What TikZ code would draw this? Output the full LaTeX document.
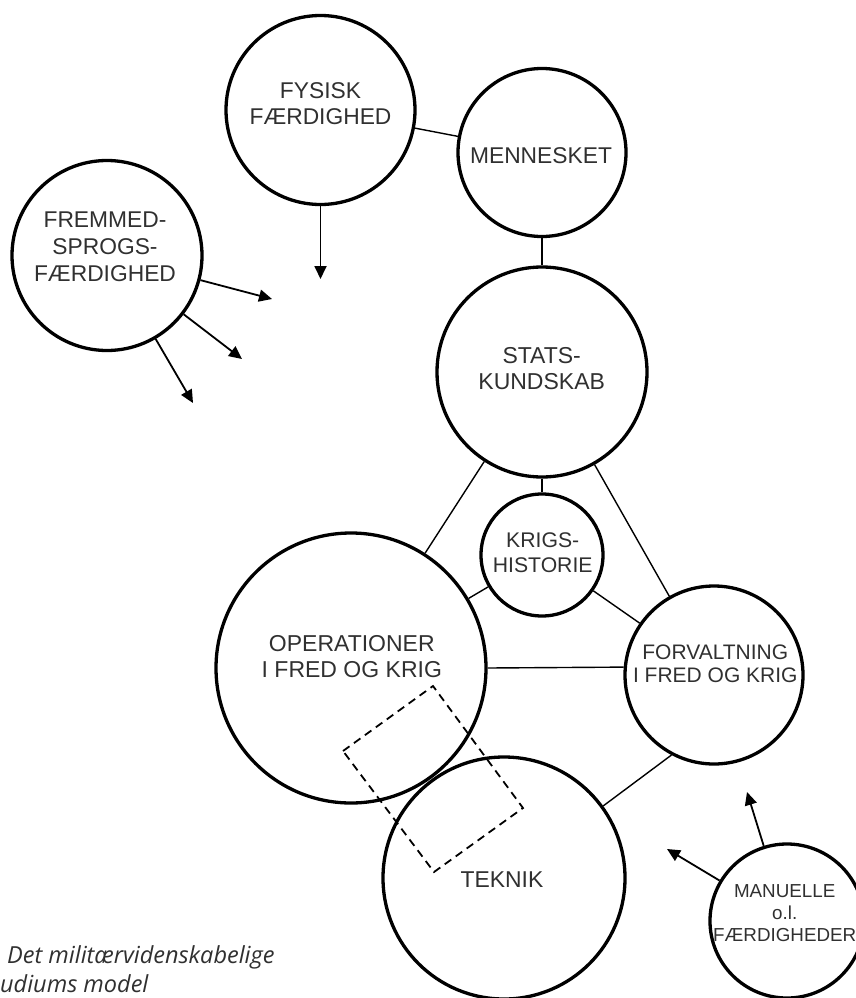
\documentclass[tikz,border=0pt]{standalone}
\usepackage{fontspec}
\setmainfont{Liberation Sans}
\newfontfamily\capfont{Open Sans}
\usetikzlibrary{arrows.meta,calc}
\definecolor{txt}{HTML}{303030}
\begin{document}
\begin{tikzpicture}[x=1pt,y=-1pt,
  circ/.style={circle,draw=black,line width=3.3pt,inner sep=0pt,minimum size=#1},
  lbl/.style={align=center,text=txt,inner sep=0pt},
  conn/.style={line width=1.4pt},
  arr/.style={line width=1.8pt,-{Triangle[length=13pt,width=12pt]}},
  dashbox/.style={line width=1.8pt,dash pattern=on 8pt off 5.5pt},
  capt/.style={anchor=base west,inner sep=0pt,text=txt,font=\capfont\itshape\fontsize{23.5}{28}\selectfont}
]
\useasboundingbox (0,0) rectangle (856,998);
\clip (0,0) rectangle (856,998);

% circles
\node[circ=189] (fys) at (320.5,110) {};
\node[circ=168] (men) at (542,152.5) {};
\node[circ=190] (frem) at (107,255.5) {};
\node[circ=210] (stats) at (542,372) {};
\node[circ=122] (krigs) at (542,555) {};
\node[circ=270] (oper) at (351,668) {};
\node[circ=178] (forv) at (714,675) {};
\node[circ=242] (tek) at (504,878) {};
\node[circ=154] (manu) at (787,921) {};

% labels
\node[lbl,font=\fontsize{22.8}{26}\selectfont] (fys-t) at (320.5,104) {FYSISK\\FÆRDIGHED};
\node[lbl,font=\fontsize{22.8}{26}\selectfont] (men-t) at (541,155.5) {MENNESKET};
\node[lbl,font=\fontsize{22.8}{27}\selectfont] (frem-t) at (105,247) {FREMMED-\\SPROGS-\\FÆRDIGHED};
\node[lbl,font=\fontsize{23}{26}\selectfont] (stats-t) at (541.7,368.5) {STATS-\\KUNDSKAB};
\node[lbl,font=\fontsize{21.2}{25}\selectfont] (krigs-t) at (542.7,553) {KRIGS-\\HISTORIE};
\node[lbl,font=\fontsize{23}{26}\selectfont] (oper-t) at (351.8,657) {OPERATIONER\\I FRED OG KRIG};
\node[lbl,font=\fontsize{21}{23}\selectfont] (forv-t) at (715.3,664) {FORVALTNING\\I FRED OG KRIG};
\node[lbl,font=\fontsize{22.9}{26}\selectfont] (tek-t) at (502,880) {TEKNIK};
\node[lbl,font=\fontsize{18.8}{22}\selectfont] (manu-t) at (784.7,913.5) {MANUELLE\\o.l.\\FÆRDIGHEDER};

% connectors
\draw[conn] (fys) -- (men);
\draw[conn] (men) -- (stats);
\draw[conn] (stats) -- (krigs);
\draw[conn] (stats) -- (oper);
\draw[conn] (stats) -- (forv);
\draw[conn] (krigs) -- (oper);
\draw[conn] (krigs) -- (forv);
\draw[conn] (oper.east) -- (forv.175);
\draw[conn] (tek.36) -- (forv.242);

% free arrow ends
\coordinate (fy1) at (320.5,279);
\coordinate (f1) at (272,299);
\coordinate (f2) at (242,359);
\coordinate (f3) at (193,403);
\coordinate (m1) at (747,792);
\coordinate (m2) at (667,849);
\draw[arr] (fys) -- (fy1);
\draw[arr] (frem) -- (f1);
\draw[arr] (frem) -- (f2);
\draw[arr] (frem) -- (f3);
\draw[arr] (manu) -- (m1);
\draw[arr] (manu) -- (m2);

% dashed box
\coordinate (dA) at (343,751);
\coordinate (dB) at (433,686);
\coordinate (dC) at (523,808);
\coordinate (dD) at (434,872);
\draw[dashbox] (dA) -- (dB) -- (dC) -- (dD) -- cycle;

% caption
\node[capt] (cap1) at (7,963) {Det militærvidenskabelige};
\node[capt] (cap2) at (0,992) {udiums model};
\end{tikzpicture}
\end{document}
